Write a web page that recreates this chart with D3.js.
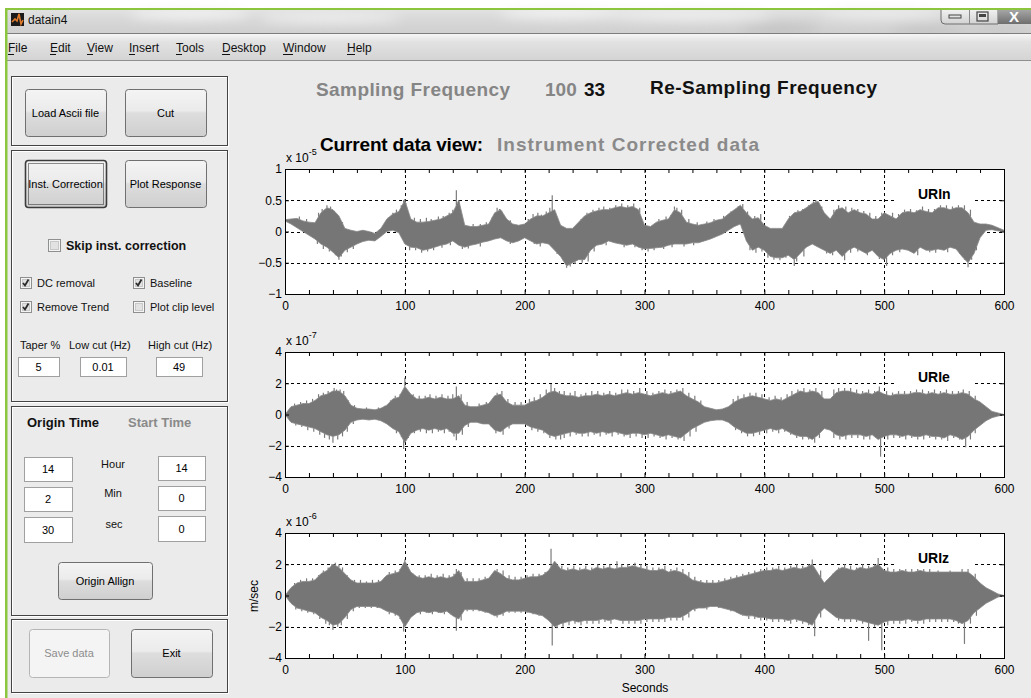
<!DOCTYPE html>
<html><head><meta charset="utf-8">
<script src="https://cdn.jsdelivr.net/npm/d3@7"></script>
<style>
html,body{margin:0;padding:0;background:#fff;overflow:hidden}
svg{display:block}
text{font-family:"Liberation Sans",Arial,sans-serif}
</style></head><body>
<svg id="fig" width="1031" height="698"></svg>
<script>
// ---- waveform data: envelope (max / min) sampled every 5 s, plus individual peaks ----
const sampleTimes = d3.range(0, 601, 5);

const urinUpper = [0.19,0.2,0.21,0.17,0.15,0.14,0.3,0.38,0.35,0.25,0.05,0.02,0.0,0.02,0.0,-0.03,0.05,0.2,0.28,0.32,
  0.5,0.2,0.15,0.15,0.16,0.18,0.2,0.25,0.3,0.5,0.1,0.08,0.08,0.1,0.12,0.3,0.35,0.2,0.12,0.1,
  0.12,0.2,0.25,0.25,0.3,0.35,0.1,0.05,0.05,0.15,0.25,0.3,0.33,0.35,0.35,0.38,0.4,0.38,0.4,0.35,
  0.1,0.08,0.15,0.18,0.2,0.35,0.3,0.15,0.12,0.1,0.12,0.14,0.18,0.2,0.28,0.35,0.42,0.3,0.2,0.22,
  0.1,0.05,0.05,0.05,0.2,0.3,0.32,0.38,0.45,0.48,0.3,0.2,0.35,0.38,0.3,0.35,0.3,0.28,0.2,0.2,
  0.3,0.25,0.2,0.3,0.32,0.3,0.35,0.32,0.3,0.38,0.38,0.35,0.38,0.38,0.3,0.15,0.12,0.12,0.1,0.06,0.02];
const urinLower = [0.17,0.12,0.06,0.0,-0.06,-0.12,-0.2,-0.25,-0.33,-0.42,-0.3,-0.25,-0.2,-0.16,-0.14,-0.15,-0.08,0.0,0.02,-0.02,
  -0.2,-0.25,-0.26,-0.3,-0.28,-0.25,-0.22,-0.2,-0.15,-0.22,-0.25,-0.22,-0.2,-0.17,-0.15,-0.12,-0.1,-0.15,-0.18,-0.15,
  -0.1,-0.15,-0.2,-0.18,-0.2,-0.3,-0.4,-0.55,-0.5,-0.45,-0.45,-0.3,-0.22,-0.2,-0.15,-0.18,-0.2,-0.22,-0.2,-0.25,
  -0.28,-0.27,-0.26,-0.25,-0.22,-0.2,-0.2,-0.2,-0.18,-0.18,-0.15,-0.12,-0.08,-0.04,0.02,0.08,0.12,-0.15,-0.3,-0.25,
  -0.3,-0.4,-0.42,-0.42,-0.38,-0.45,-0.35,-0.25,-0.2,-0.25,-0.3,-0.35,-0.3,-0.4,-0.3,-0.25,-0.3,-0.35,-0.3,-0.4,
  -0.45,-0.35,-0.3,-0.28,-0.3,-0.35,-0.25,-0.3,-0.3,-0.28,-0.3,-0.25,-0.28,-0.4,-0.5,-0.35,-0.1,0.02,0.03,0.01,0.0];
const urinPeaks = [[35,0.42],[45,-0.45],[100,0.52],[143,0.66],[223,0.58],[235,-0.58],[325,0.4],[382,0.44],[425,-0.55],[443,0.5],[467,-0.46],[502,-0.55],[570,-0.57],
  [12,0.24],[18,0.2],[28,0.3],[31,0.36],[33,0.33],[38,0.4],[41,0.3],[48,0.15],[86,0.22],[90,0.3],[93,0.35],[97,0.42],[99,0.5],[101,0.45],[108,0.22],[113,0.2],[118,0.22],
  [122,0.2],[128,0.24],[132,0.25],[137,0.3],[140,0.35],[145,0.4],[157,0.12],[163,0.12],[168,0.15],[173,0.2],[177,0.38],[179,0.36],[181,0.3],[188,0.18],[203,0.2],
  [207,0.28],[211,0.3],[214,0.27],[218,0.32],[221,0.38],[226,0.3],[247,0.2],[252,0.3],[257,0.35],[262,0.38],[266,0.4],[271,0.38],[276,0.42],[281,0.45],[286,0.42],
  [291,0.45],[296,0.38],[312,0.2],[318,0.24],[322,0.25],[327,0.38],[331,0.35],[337,0.2],[344,0.15],[352,0.16],[358,0.2],[366,0.25],[372,0.32],[378,0.4],[386,0.32],
  [392,0.25],[397,0.28],[421,0.25],[428,0.34],[432,0.36],[437,0.42],[441,0.48],[448,0.4],[458,0.35],[462,0.42],[468,0.4],[473,0.38],[478,0.36],[483,0.33],[488,0.3],
  [493,0.25],[498,0.3],[507,0.3],[512,0.28],[517,0.35],[522,0.36],[527,0.34],[532,0.4],[537,0.36],[542,0.36],[547,0.42],[552,0.42],[557,0.4],[562,0.42],[567,0.42],[572,0.35],
  [27,-0.2],[32,-0.28],[37,-0.32],[42,-0.38],[47,-0.4],[52,-0.33],[57,-0.28],[104,-0.3],[109,-0.3],[114,-0.34],[119,-0.32],[124,-0.3],[131,-0.26],[138,-0.22],[148,-0.28],
  [153,-0.27],[163,-0.24],[188,-0.2],[208,-0.2],[213,-0.24],[227,-0.36],[232,-0.45],[238,-0.56],[242,-0.52],[248,-0.5],[253,-0.48],[258,-0.32],[268,-0.22],[283,-0.25],
  [292,-0.25],[298,-0.3],[303,-0.32],[308,-0.3],[316,-0.28],[323,-0.25],[333,-0.24],[341,-0.22],[388,-0.3],[393,-0.34],[398,-0.32],[403,-0.42],[408,-0.45],[413,-0.46],
  [418,-0.42],[427,-0.48],[433,-0.4],[452,-0.35],[457,-0.38],[463,-0.35],[472,-0.34],[478,-0.32],[486,-0.38],[492,-0.34],[496,-0.44],[507,-0.38],[513,-0.33],[523,-0.33],
  [528,-0.38],[538,-0.33],[543,-0.34],[553,-0.33],[563,-0.33],[567,-0.45],[573,-0.45],[577,-0.3]];

const urieUpper = [0,0.5,0.6,0.7,0.7,0.9,1.2,1.3,1.5,1.5,1.2,0.6,0.4,0.35,0.35,0.3,0.4,0.6,1.0,1.1,
  1.8,1.3,1.0,1.0,1.1,1.0,1.1,1.0,1.0,1.2,0.6,0.5,0.5,0.6,0.7,1.2,1.3,0.8,0.6,0.6,
  0.6,0.8,0.9,1.1,1.4,1.5,1.3,1.2,1.2,1.1,1.2,1.2,1.3,1.2,1.3,1.2,1.3,1.4,1.3,1.4,
  1.3,1.2,1.3,1.4,1.3,1.4,1.5,1.2,1.0,0.8,0.5,0.4,0.3,0.35,0.5,0.8,1.0,1.1,1.2,1.1,
  1.0,0.9,1.0,0.9,1.1,1.3,1.5,1.4,1.5,1.4,1.0,1.0,1.4,1.5,1.5,1.4,1.3,1.4,1.3,1.5,
  1.3,1.2,1.3,1.3,1.3,1.4,1.4,1.3,1.4,1.3,1.4,1.3,1.3,1.4,1.3,1.0,0.8,0.5,0.2,0.1,0];
const urieLower = [0,-0.5,-0.6,-0.7,-0.8,-0.9,-1.1,-1.3,-1.4,-1.3,-1.0,-0.5,-0.35,-0.3,-0.35,-0.3,-0.4,-0.6,-0.9,-1.1,
  -1.8,-1.2,-1.0,-0.9,-1.0,-0.9,-1.0,-0.9,-1.2,-1.2,-0.7,-0.5,-0.5,-0.6,-0.6,-1.0,-1.1,-0.8,-0.6,-0.6,
  -0.6,-0.8,-0.9,-1.0,-1.3,-1.4,-1.3,-1.2,-1.1,-1.2,-1.2,-1.1,-1.2,-1.1,-1.2,-1.1,-1.2,-1.3,-1.2,-1.2,
  -1.3,-1.2,-1.3,-1.4,-1.3,-1.4,-1.5,-1.2,-0.9,-0.7,-0.5,-0.4,-0.35,-0.35,-0.5,-0.8,-1.0,-1.2,-1.2,-1.1,
  -1.0,-0.9,-1.0,-0.9,-1.1,-1.3,-1.4,-1.4,-1.6,-1.3,-0.9,-1.0,-1.3,-1.4,-1.3,-1.3,-1.3,-1.4,-1.3,-1.6,
  -1.4,-1.3,-1.3,-1.4,-1.3,-1.4,-1.4,-1.3,-1.4,-1.4,-1.5,-1.3,-1.4,-1.6,-1.4,-1.0,-0.7,-0.4,-0.2,-0.1,0];
const uriePeaks = [[43,1.6],[40,-1.8],[100,2.35],[99,-2.2],[143,1.8],[143,-1.65],[222,1.95],[230,-1.6],[497,-2.7],[568,-2.1],
  [8,0.7],[13,0.8],[18,0.9],[23,1.0],[28,1.3],[32,1.4],[36,1.5],[41,1.7],[46,1.6],[49,1.5],[53,0.9],[58,0.6],[68,0.45],[78,0.45],[83,0.55],[88,0.9],[92,1.2],[96,1.3],
  [103,1.5],[107,1.3],[112,1.2],[117,1.2],[121,1.3],[126,1.2],[131,1.3],[136,1.2],[140,1.3],[147,1.3],[152,0.8],[162,0.7],[168,0.8],[173,1.0],[177,1.4],[181,1.5],
  [186,1.0],[192,0.8],[197,0.8],[204,1.0],[208,1.1],[213,1.3],[218,1.6],[225,1.7],[229,1.5],[233,1.5],[238,1.4],[242,1.5],[247,1.3],[251,1.4],[256,1.5],[261,1.5],
  [266,1.4],[271,1.5],[276,1.4],[281,1.6],[286,1.6],[291,1.5],[296,1.7],[302,1.5],[307,1.4],[312,1.5],[317,1.6],[322,1.5],[327,1.6],[332,1.7],[337,1.4],[342,1.2],
  [347,0.9],[374,1.0],[378,1.2],[383,1.3],[388,1.4],[393,1.4],[398,1.3],[404,1.1],[409,1.2],[414,1.1],[419,1.3],[423,1.5],[428,1.6],[433,1.7],[438,1.6],[443,1.7],
  [448,1.5],[458,1.6],[462,1.7],[467,1.7],[472,1.7],[477,1.6],[482,1.5],[487,1.6],[492,1.5],[496,1.8],[502,1.5],[507,1.4],[512,1.5],[517,1.5],[522,1.5],[527,1.6],
  [532,1.6],[537,1.5],[542,1.6],[547,1.5],[552,1.6],[557,1.5],[562,1.5],[566,1.6],[571,1.5],[576,1.2],
  [9,-0.7],[14,-0.8],[19,-1.0],[24,-1.1],[29,-1.3],[33,-1.5],[37,-1.6],[44,-1.6],[48,-1.4],[52,-1.1],[57,-0.6],[88,-0.8],[93,-1.2],[97,-1.4],[103,-1.5],[108,-1.2],
  [113,-1.1],[118,-1.2],[123,-1.2],[128,-1.1],[133,-1.2],[137,-1.1],[141,-1.4],[148,-1.3],[153,-0.8],[172,-0.8],[176,-1.2],[182,-1.3],[187,-0.9],[206,-1.0],[211,-1.1],
  [216,-1.2],[221,-1.5],[226,-1.6],[233,-1.5],[238,-1.4],[243,-1.3],[248,-1.4],[253,-1.4],[258,-1.3],[263,-1.4],[268,-1.3],[273,-1.4],[278,-1.3],[283,-1.4],[288,-1.5],
  [293,-1.4],[298,-1.5],[303,-1.5],[308,-1.4],[313,-1.5],[318,-1.6],[323,-1.5],[328,-1.6],[333,-1.7],[338,-1.4],[343,-1.1],[376,-1.0],[381,-1.2],[386,-1.4],[391,-1.4],
  [396,-1.3],[402,-1.2],[407,-1.1],[412,-1.2],[417,-1.1],[422,-1.3],[427,-1.5],[432,-1.6],[437,-1.6],[442,-1.8],[446,-1.5],[458,-1.5],[463,-1.6],[468,-1.6],[473,-1.5],
  [478,-1.5],[483,-1.6],[488,-1.6],[493,-1.5],[503,-1.6],[508,-1.5],[513,-1.5],[518,-1.6],[523,-1.5],[528,-1.6],[533,-1.6],[538,-1.5],[543,-1.6],[548,-1.6],[553,-1.7],
  [558,-1.5],[563,-1.6],[572,-1.6],[576,-1.2]];

const urizUpper = [0,0.5,0.8,0.9,0.9,1.0,1.4,1.6,2.0,1.8,1.4,1.0,0.8,0.8,0.8,0.8,0.9,1.3,1.4,1.5,
  2.2,1.5,1.2,1.1,1.2,1.1,1.2,1.1,1.2,1.6,0.9,0.9,0.9,1.0,1.1,1.6,1.4,1.1,1.0,1.0,
  1.1,1.2,1.2,1.3,1.6,2.2,1.7,1.6,1.7,1.6,1.7,1.6,1.8,1.7,1.8,1.7,1.8,1.8,1.9,1.8,
  1.7,1.6,1.6,1.7,1.5,1.6,1.5,1.3,1.0,0.9,0.8,0.8,0.8,0.9,1.0,1.1,1.2,1.3,1.4,1.5,
  1.6,1.6,1.7,1.6,1.7,1.8,1.7,1.8,2.0,1.4,0.8,1.2,1.6,1.8,1.7,1.6,1.8,1.7,1.8,2.0,
  1.6,1.5,1.5,1.6,1.5,1.5,1.6,1.5,1.5,1.5,1.5,1.5,1.5,1.5,1.5,1.2,0.8,0.5,0.3,0.1,0];
const urizLower = [0,-0.5,-0.8,-0.9,-1.0,-1.1,-1.4,-1.6,-1.9,-1.8,-1.4,-0.9,-0.7,-0.7,-0.7,-0.7,-0.8,-1.0,-1.1,-1.3,
  -2.0,-1.4,-1.1,-1.0,-1.1,-1.0,-1.1,-1.0,-1.3,-1.5,-0.9,-0.9,-0.9,-1.0,-1.1,-1.3,-1.2,-1.0,-1.0,-1.0,
  -1.0,-1.1,-1.2,-1.3,-1.6,-2.0,-1.8,-1.7,-1.6,-1.7,-1.6,-1.6,-1.6,-1.5,-1.6,-1.5,-1.6,-1.6,-1.6,-1.6,
  -1.5,-1.5,-1.5,-1.5,-1.4,-1.4,-1.4,-1.2,-0.9,-0.8,-0.8,-0.7,-0.7,-0.8,-0.9,-1.0,-1.2,-1.3,-1.3,-1.4,
  -1.4,-1.5,-1.5,-1.5,-1.6,-1.5,-1.6,-1.7,-1.9,-1.2,-0.8,-1.1,-1.4,-1.5,-1.5,-1.5,-1.6,-1.7,-1.8,-1.9,
  -1.7,-1.6,-1.6,-1.6,-1.5,-1.6,-1.6,-1.5,-1.5,-1.5,-1.5,-1.5,-1.6,-1.8,-1.6,-1.1,-0.8,-0.5,-0.3,-0.1,0];
const urizPeaks = [[42,2.1],[40,-2.2],[100,2.3],[99,-2.3],[143,1.7],[143,-2.25],[222,3.0],[223,-3.2],[277,2.2],[440,2.3],[442,-2.6],[495,2.4],[487,-2.9],[498,-3.5],[567,-3.1],
  [8,0.8],[13,1.0],[18,1.1],[23,1.1],[28,1.3],[32,1.6],[36,1.8],[39,2.0],[45,2.0],[48,1.8],[52,1.3],[58,1.0],[63,1.0],[68,0.9],[73,1.0],[78,1.0],[83,1.1],[87,1.5],
  [92,1.6],[96,1.7],[103,1.8],[107,1.4],[112,1.3],[117,1.3],[122,1.4],[127,1.3],[132,1.4],[137,1.3],[141,1.4],[147,1.5],[152,1.1],[157,1.1],[162,1.1],[167,1.2],
  [172,1.3],[177,1.7],[182,1.6],[187,1.3],[192,1.2],[197,1.2],[202,1.3],[207,1.4],[212,1.4],[217,1.5],[227,2.0],[231,1.9],[236,1.8],[241,1.9],[246,1.8],[251,1.9],
  [256,1.8],[261,2.0],[266,1.9],[271,2.0],[281,2.0],[286,2.0],[292,2.1],[297,2.0],[302,1.9],[307,1.8],[312,1.8],[317,1.9],[322,1.7],[327,1.8],[332,1.7],[337,1.5],
  [342,1.2],[347,1.0],[352,1.0],[357,1.0],[362,1.0],[367,1.1],[372,1.2],[377,1.3],[382,1.4],[387,1.5],[392,1.6],[397,1.7],[402,1.8],[407,1.8],[412,1.9],[417,1.8],
  [422,1.9],[427,2.0],[432,1.9],[437,2.0],[447,1.6],[452,1.0],[457,1.4],[462,1.8],[467,2.0],[472,1.9],[477,1.8],[482,2.0],[487,1.9],[492,2.0],[503,1.8],[508,1.7],
  [513,1.7],[518,1.8],[523,1.7],[528,1.7],[533,1.8],[538,1.7],[545,1.6],[555,1.6],[565,1.7],[570,1.7],[576,1.4],
  [9,-0.9],[14,-1.0],[19,-1.1],[24,-1.2],[29,-1.5],[34,-1.8],[37,-1.9],[44,-2.0],[47,-1.9],[52,-1.5],[57,-1.0],[62,-0.8],[67,-0.8],[72,-0.8],[77,-0.8],[82,-0.9],
  [87,-1.2],[92,-1.3],[96,-1.5],[103,-1.6],[108,-1.2],[113,-1.2],[118,-1.1],[123,-1.2],[128,-1.1],[133,-1.2],[138,-1.2],[147,-1.6],[152,-1.0],[157,-1.0],[162,-1.0],
  [167,-1.1],[172,-1.2],[177,-1.4],[182,-1.3],[187,-1.1],[192,-1.1],[197,-1.1],[202,-1.1],[207,-1.2],[212,-1.3],[217,-1.4],[227,-2.1],[232,-2.0],[237,-1.9],[242,-1.8],
  [247,-1.9],[252,-1.8],[257,-1.8],[262,-1.8],[267,-1.7],[272,-1.8],[282,-1.8],[287,-1.8],[292,-1.8],[297,-1.8],[302,-1.7],[307,-1.7],[312,-1.7],[317,-1.7],[322,-1.6],
  [327,-1.6],[332,-1.6],[337,-1.4],[342,-1.0],[352,-0.9],[362,-0.8],[372,-1.0],[377,-1.1],[382,-1.3],[387,-1.5],[392,-1.5],[397,-1.6],[402,-1.6],[407,-1.7],[412,-1.7],
  [417,-1.7],[422,-1.8],[427,-1.7],[432,-1.8],[437,-1.9],[447,-1.4],[452,-0.9],[457,-1.2],[462,-1.6],[467,-1.7],[472,-1.7],[477,-1.7],[482,-1.8],[492,-2.0],[503,-1.9],
  [508,-1.8],[513,-1.8],[518,-1.8],[523,-1.7],[528,-1.8],[533,-1.8],[538,-1.7],[543,-1.7],[548,-1.7],[553,-1.7],[558,-1.7],[562,-1.8],[572,-1.8],[577,-1.3]];

// ---- axis ticks and labels ----
const timeTicks = [0,100,200,300,400,500,600];
const timeMinorTicks = d3.range(0, 601, 20);
const urinTicks = [-1,-0.5,0,0.5,1];
const urieTicks = [-4,-2,0,2,4];
const urizTicks = [-4,-2,0,2,4];
const traceNames = ["URIn","URIe","URIz"];
const traceExponents = ["-5","-7","-6"];

// ---- GUI texts ----
const menuItems = ["File","Edit","View","Insert","Tools","Desktop","Window","Help"];
const samplingFreq = "100", resamplingFreq = "33";

const svg = d3.select("#fig");
const defs = svg.append("defs");

function grad(id, stops, vertical = true) {
  const g = defs.append("linearGradient").attr("id", id)
    .attr("x1", 0).attr("y1", 0).attr("x2", vertical ? 0 : 1).attr("y2", vertical ? 1 : 0);
  stops.forEach(([o, c]) => g.append("stop").attr("offset", o).attr("stop-color", c));
}
grad("btn", [[0,"#f4f4f4"],[0.45,"#ebebeb"],[0.5,"#dddddd"],[1,"#cfcfcf"]]);
grad("btnDis", [[0,"#f4f4f4"],[1,"#f4f4f4"]]);
grad("title", [[0,"#e2e2e2"],[0.5,"#d7d7d7"],[1,"#d0d0d0"]]);
grad("menu", [[0,"#f6f6f6"],[0.3,"#e2e2e2"],[1,"#d4d4d4"]]);
grad("close", [[0,"#a9a9a9"],[0.5,"#8c8c8c"],[1,"#6e6e6e"]]);
grad("wbtn", [[0,"#f2f2f2"],[1,"#d2d2d2"]]);
defs.append("filter").attr("id","soft").attr("x","-50%").attr("y","-50%").attr("width","200%").attr("height","200%")
  .append("feGaussianBlur").attr("stdDeviation", 6);

// page and window frame
svg.append("rect").attr("width",1031).attr("height",698).attr("fill","#ffffff");
svg.append("rect").attr("x",6).attr("y",9).attr("width",1025).attr("height",689).attr("fill","#ebebeb");

// title bar
svg.append("rect").attr("x",6).attr("y",9).attr("width",1025).attr("height",24).attr("fill","url(#title)");
const glow = svg.append("g").attr("filter","url(#soft)");
[[190,14,60,5,"#f4f4f4"],[330,18,70,5,"#efefef"],[560,13,60,5,"#f4f4f4"],[690,15,80,5,"#f1f1f1"],
 [880,14,60,4,"#efefef"],[780,29,40,3,"#b8b8b8"],[930,30,40,3,"#bdbdbd"],[1000,29,30,3,"#c4c4c4"]]
 .forEach(([cx,cy,rx,ry,c]) => glow.append("ellipse").attr("cx",cx).attr("cy",cy).attr("rx",rx).attr("ry",ry).attr("fill",c));
svg.append("line").attr("x1",6).attr("x2",1031).attr("y1",33.5).attr("y2",33.5).attr("stroke","#7d7d7d");
// application icon + window title
svg.append("rect").attr("x",11).attr("y",13).attr("width",13).attr("height",13).attr("fill","#1a1a1a");
svg.append("path").attr("d","M12,22 L15,19 L17,21 L19,14 L21,24 L23,20").attr("fill","none").attr("stroke","#e07a2a").attr("stroke-width",1.6);
svg.append("text").attr("x",28).attr("y",24).attr("font-family","'Noto Sans','DejaVu Sans',sans-serif")
  .attr("font-size",12).attr("fill","#111").text("datain4");
// window buttons
const wb = svg.append("g");
wb.append("path").attr("d","M941,9 V20 Q941,24 945,24 H998 V9 Z").attr("fill","url(#wbtn)").attr("stroke","#6e6e6e");
wb.append("line").attr("x1",969.5).attr("x2",969.5).attr("y1",9).attr("y2",24).attr("stroke","#8a8a8a");
wb.append("rect").attr("x",998).attr("y",9).attr("width",33).attr("height",15).attr("fill","url(#close)");
wb.append("rect").attr("x",949).attr("y",15).attr("width",12).attr("height",3).attr("fill","none").attr("stroke","#444");
wb.append("rect").attr("x",977).attr("y",12).attr("width",11).attr("height",9).attr("fill","none").attr("stroke","#444").attr("stroke-width",1.2);
wb.append("rect").attr("x",979).attr("y",14).attr("width",7).attr("height",3).attr("fill","#444");
wb.append("text").attr("x",1014).attr("y",22).attr("text-anchor","middle").attr("font-size",15).attr("font-weight","bold").attr("fill","#fff").text("X");

// menu bar
svg.append("rect").attr("x",6).attr("y",34).attr("width",1025).attr("height",26).attr("fill","url(#menu)");
svg.append("line").attr("x1",6).attr("x2",1031).attr("y1",60.5).attr("y2",60.5).attr("stroke","#8f8f8f");
const menuX = [8,50,87,129,176,222,283,347];
menuItems.forEach((m, i) => {
  svg.append("text").attr("x", menuX[i]).attr("y", 52)
    .attr("font-family","'Noto Sans','DejaVu Sans',sans-serif").attr("font-size",12).attr("fill","#111").text(m);
  const firstW = m[0] === "W" ? 10 : (m[0] === "D" || m[0] === "H" ? 8 : 6);
  svg.append("line").attr("x1", menuX[i]).attr("x2", menuX[i] + firstW).attr("y1", 54.5).attr("y2", 54.5).attr("stroke","#111");
});

// green window border
svg.append("rect").attr("x",5).attr("y",8).attr("width",1026).attr("height",2).attr("fill","#8cc63f");
svg.append("rect").attr("x",5).attr("y",8).attr("width",2.5).attr("height",690).attr("fill","#8cc63f");

// ---- control panel helpers ----
function panel(x, y, w, h) {
  svg.append("rect").attr("x",x+0.5).attr("y",y+0.5).attr("width",w).attr("height",h).attr("fill","none").attr("stroke","#ffffff");
  svg.append("rect").attr("x",x-0.5).attr("y",y-0.5).attr("width",w).attr("height",h).attr("fill","none").attr("stroke","#444");
}
function button(x, y, w, h, label, opt = {}) {
  svg.append("rect").attr("x",x+0.5).attr("y",y+0.5).attr("width",w).attr("height",h).attr("rx",3)
    .attr("fill", opt.disabled ? "url(#btnDis)" : "url(#btn)")
    .attr("stroke", opt.disabled ? "#b5b5b5" : (opt.focus ? "#3c3c3c" : "#707070"))
    .attr("stroke-width", opt.focus ? 1.6 : 1);
  if (opt.focus) svg.append("rect").attr("x",x+3.5).attr("y",y+3.5).attr("width",w-6).attr("height",h-6)
    .attr("fill","none").attr("stroke","#222").attr("stroke-dasharray","1,1");
  svg.append("text").attr("x",x+w/2).attr("y",y+h/2+4).attr("text-anchor","middle").attr("font-size",11)
    .attr("fill", opt.disabled ? "#8d8d8d" : "#000").text(label);
}
function editBox(x, y, w, h, value) {
  svg.append("rect").attr("x",x+0.5).attr("y",y+0.5).attr("width",w).attr("height",h).attr("fill","#fff").attr("stroke","#a0a0a0");
  svg.append("text").attr("x",x+w/2).attr("y",y+h/2+4).attr("text-anchor","middle").attr("font-size",11).attr("fill","#000").text(value);
}
function checkbox(x, y, s, checked, label, opt = {}) {
  svg.append("rect").attr("x",x+0.5).attr("y",y+0.5).attr("width",s).attr("height",s).attr("fill","#f4f4f4").attr("stroke","#8e8f8f");
  svg.append("rect").attr("x",x+2.5).attr("y",y+2.5).attr("width",s-4).attr("height",s-4).attr("fill","#e2e2e2").attr("stroke","#c8c8c8");
  if (checked) svg.append("path").attr("d",`M${x+3},${y+s/2+0.5} L${x+s/2-0.5},${y+s-2.5} L${x+s-2.5},${y+2.5}`)
    .attr("fill","none").attr("stroke","#2b2b2b").attr("stroke-width",1.8);
  svg.append("text").attr("x",x+s+opt.gap).attr("y",y+s-1).attr("font-size",opt.size)
    .attr("font-weight",opt.bold ? "bold" : "normal").attr("fill","#111").text(label);
}
function label(x, y, txt, opt = {}) {
  const t = svg.append("text").attr("x",x).attr("y",y).attr("font-size",opt.size || 11)
    .attr("font-weight",opt.bold ? "bold" : "normal").attr("text-anchor",opt.anchor || "start")
    .attr("fill",opt.color || "#111").text(txt);
  if (opt.len) t.attr("textLength", opt.len).attr("lengthAdjust", "spacing");
  return t;
}

// panel 1
panel(12,77,216,69);
button(25,89,81,47,"Load Ascii file");
button(125,89,81,47,"Cut");
// panel 2
panel(12,151,216,251);
button(25,160,81,47,"Inst. Correction",{focus:true});
button(125,160,81,47,"Plot Response");
checkbox(48,239,12,false,"Skip inst. correction",{gap:6,size:12.5,bold:true});
checkbox(20,277,11,true,"DC removal",{gap:6,size:11});
checkbox(133,277,11,true,"Baseline",{gap:6,size:11});
checkbox(20,301,11,true,"Remove Trend",{gap:6,size:11});
checkbox(133,301,11,false,"Plot clip level",{gap:6,size:11});
label(20,349,"Taper %");
label(69,349,"Low cut (Hz)");
label(148,349,"High cut (Hz)");
editBox(18,357,41,19,"5");
editBox(80,357,46,19,"0.01");
editBox(156,357,46,19,"49");
// panel 3
panel(12,407,216,209);
label(27,427,"Origin Time",{size:13,bold:true});
label(128,427,"Start Time",{size:13,bold:true,color:"#8a8a8a"});
editBox(24,457,48,24,"14");
editBox(158,456,47,24,"14");
label(113,468,"Hour",{anchor:"middle"});
editBox(24,487,48,24,"2");
editBox(158,486,47,24,"0");
label(113,497,"Min",{anchor:"middle"});
editBox(24,517,48,25,"30");
editBox(158,516,47,25,"0");
label(114,528,"sec",{anchor:"middle"});
button(58,562,94,37,"Origin Allign");
// panel 4
panel(12,620,216,73);
button(29,629,80,48,"Save data",{disabled:true});
button(131,629,81,48,"Exit");

// ---- header texts ----
label(316,96,"Sampling Frequency",{size:19,bold:true,color:"#858585",len:194});
label(545,96,samplingFreq,{size:19,bold:true,color:"#858585"});
label(584,96,resamplingFreq,{size:19,bold:true,color:"#111"});
label(650,94,"Re-Sampling Frequency",{size:19,bold:true,color:"#111",len:227});
label(320,151,"Current data view:",{size:19,bold:true,color:"#000",len:163});
label(497,151,"Instrument Corrected data",{size:19,bold:true,color:"#8a8a8a",len:262});

// ---- seismogram axes ----
const traces = [
  {name:traceNames[0], exp:traceExponents[0], top:169, ticks:urinTicks, upper:urinUpper, lower:urinLower, peaks:urinPeaks},
  {name:traceNames[1], exp:traceExponents[1], top:352, ticks:urieTicks, upper:urieUpper, lower:urieLower, peaks:uriePeaks},
  {name:traceNames[2], exp:traceExponents[2], top:533, ticks:urizTicks, upper:urizUpper, lower:urizLower, peaks:urizPeaks}
];
const axLeft = 285, axRight = 1004, axH = 125;
const x = d3.scaleLinear().domain([0,600]).range([axLeft, axRight]);
const waveColor = "#767676";

traces.forEach((tr, k) => {
  const y = d3.scaleLinear().domain([tr.ticks[0], tr.ticks[tr.ticks.length-1]]).range([tr.top+axH, tr.top]);
  const g = svg.append("g");
  const clipId = "clip" + k;
  defs.append("clipPath").attr("id", clipId).append("rect")
    .attr("x", axLeft).attr("y", tr.top).attr("width", axRight-axLeft).attr("height", axH);
  g.append("rect").attr("x",axLeft).attr("y",tr.top).attr("width",axRight-axLeft).attr("height",axH).attr("fill","#fff");

  // grid
  const grid = g.append("g").attr("stroke","#000").attr("stroke-dasharray","3,3").attr("stroke-width",1);
  timeTicks.slice(1,-1).forEach(t => grid.append("line").attr("x1",Math.round(x(t))+0.5).attr("x2",Math.round(x(t))+0.5)
    .attr("y1",tr.top).attr("y2",tr.top+axH));
  tr.ticks.slice(1,-1).forEach(v => grid.append("line").attr("x1",axLeft).attr("x2",axRight)
    .attr("y1",Math.round(y(v))+0.5).attr("y2",Math.round(y(v))+0.5));

  // waveform: envelope band plus individual peaks
  const wave = g.append("g").attr("clip-path",`url(#${clipId})`);
  const area = d3.area().x((d,i) => x(sampleTimes[i])).y0((d,i) => y(tr.lower[i])).y1((d,i) => y(tr.upper[i]));
  wave.append("path").datum(tr.upper).attr("d", area).attr("fill", waveColor).attr("stroke", "#888").attr("stroke-width", 0.8);
  const envAt = t => { const i = Math.min(120, Math.floor(t/5)), f = (t - i*5)/5, j = Math.min(120, i+1);
    return [tr.upper[i]*(1-f)+tr.upper[j]*f, tr.lower[i]*(1-f)+tr.lower[j]*f]; };
  wave.selectAll("line.peak").data(tr.peaks).join("line").attr("class","peak")
    .attr("x1", d => x(d[0])).attr("x2", d => x(d[0]))
    .attr("y1", d => y(d[1] > 0 ? envAt(d[0])[0] : envAt(d[0])[1]))
    .attr("y2", d => y(d[1])).attr("stroke", "#7c7c7c").attr("stroke-width", 1.2);

  // trace label with white background
  g.append("rect").attr("x",895).attr("y",tr.top+14).attr("width",78).attr("height",22).attr("fill","#fff");
  g.append("text").attr("x",918).attr("y",tr.top+30).attr("font-size",14).attr("font-weight","bold").attr("fill","#000").text(tr.name);

  // axes with inward ticks
  const axStyle = sel => { sel.select(".domain").remove(); sel.selectAll("line").attr("stroke","#000");
    sel.selectAll("text").attr("font-size",12).attr("font-family","'Liberation Sans',Arial,sans-serif").attr("fill","#000"); };
  g.append("g").attr("transform",`translate(0,${tr.top+axH})`)
    .call(d3.axisBottom(x).tickValues(timeMinorTicks).tickSize(-4).tickPadding(7).tickFormat(d => d % 100 === 0 ? d : ""))
    .call(axStyle);
  g.append("g").attr("transform",`translate(0,${tr.top})`)
    .call(d3.axisTop(x).tickValues(timeMinorTicks).tickSize(-4).tickFormat(""))
    .call(axStyle);
  g.append("g").attr("transform",`translate(${axLeft},0)`)
    .call(d3.axisLeft(y).tickValues(tr.ticks).tickSize(-4).tickPadding(3).tickFormat(d3.format("")))
    .call(axStyle);
  g.append("g").attr("transform",`translate(${axRight},0)`)
    .call(d3.axisRight(y).tickValues(tr.ticks).tickSize(-4).tickFormat(""))
    .call(axStyle);
  g.append("rect").attr("x",axLeft+0.5).attr("y",tr.top+0.5).attr("width",axRight-axLeft).attr("height",axH)
    .attr("fill","none").attr("stroke","#000");

  // exponent label
  const ex = g.append("text").attr("x",286).attr("y",tr.top-7).attr("font-size",12).attr("fill","#000");
  ex.append("tspan").text("x 10");
  ex.append("tspan").attr("dy",-7).attr("font-size",9).text(tr.exp);
});

label(645,692,"Seconds",{size:12,anchor:"middle",color:"#000"});
svg.append("text").attr("transform","translate(258,596) rotate(-90)").attr("text-anchor","middle")
  .attr("font-size",12).attr("fill","#000").text("m/sec");
</script></body></html>
